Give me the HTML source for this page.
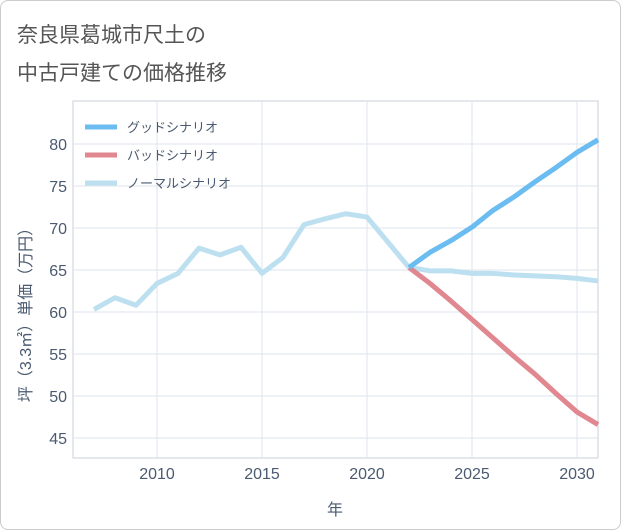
<!DOCTYPE html>
<html><head><meta charset="utf-8">
<style>
body{margin:0;background:#fff;}
#card{position:absolute;left:0;top:0;width:619px;height:528px;border:1px solid #ccc;border-radius:8px;background:#fff;overflow:hidden;}
.title{position:absolute;left:16px;font-family:"Liberation Sans","Noto Sans CJK JP",sans-serif;font-size:21px;color:#555;}
svg text{font-family:"Liberation Sans","Noto Sans CJK JP",sans-serif;}
</style></head><body>
<div id="card">
<div class="title" style="top:18px">奈良県葛城市尺土の</div>
<div class="title" style="top:56px">中古戸建ての価格推移</div>
<svg id="chart" width="621" height="530" style="position:absolute;left:0;top:0"></svg>
</div>
<script>
const years=[2007,2008,2009,2010,2011,2012,2013,2014,2015,2016,2017,2018,2019,2020,2021,2022];
const histValues=[60.3,61.7,60.8,63.4,64.6,67.6,66.8,67.7,64.6,66.5,70.4,71.1,71.7,71.3,68.3,65.3];
const futYears=[2022,2023,2024,2025,2026,2027,2028,2029,2030,2031];
const goodValues=[65.3,67.1,68.5,70.1,72.1,73.7,75.5,77.2,79.0,80.5];
const badValues=[65.3,63.4,61.3,59.1,56.9,54.7,52.6,50.3,48.1,46.6];
const normalValues=[65.3,64.9,64.9,64.6,64.6,64.4,64.3,64.2,64.0,63.7];
const xTicks=[2010,2015,2020,2025,2030];
const yTicks=[45,50,55,60,65,70,75,80];
const legendLabels=["グッドシナリオ","バッドシナリオ","ノーマルシナリオ"];
const colors=["#6bbcf0","#e0878f","#bde0f0"];
const L=72,R=597,T=100,B=457;
const x=v=>156+(v-2010)*21;
const y=v=>143+(80-v)*8.4;
const svg=document.getElementById('chart');
const NS="http://www.w3.org/2000/svg";
function mk(t,a){const e=document.createElementNS(NS,t);for(const k in a)e.setAttribute(k,a[k]);svg.appendChild(e);return e;}
const bg=mk('rect',{x:L,y:T,width:R-L,height:B-T,fill:'none',stroke:'#c8d0da'});


xTicks.forEach(t=>{const g=mk('line',{x1:x(t),x2:x(t),y1:T,y2:B,stroke:'#dde4ec'});


const l=mk('text',{x:x(t),y:478,'text-anchor':'middle','font-size':16,fill:'#4a5a70'});l.textContent=t;

});
yTicks.forEach(t=>{const g=mk('line',{x1:L,x2:R,y1:y(t),y2:y(t),stroke:'#dde4ec'});


const l=mk('text',{x:66,y:y(t)+6,'text-anchor':'end','font-size':16,fill:'#4a5a70'});l.textContent=t;

});
const xt=mk('text',{x:334,y:514,'text-anchor':'middle','font-size':16,fill:'#4a5a70'});xt.textContent='年';


const yt=mk('text',{x:0,y:0,'text-anchor':'middle','font-size':16,fill:'#4a5a70',transform:'translate(30,310) rotate(-90)'});yt.textContent='坪（3.3㎡）単価（万円）';


function line(xs,vs,c,name){const p=mk('polyline',{points:xs.map((v,i)=>x(v)+','+y(vs[i])).join(' '),fill:'none',stroke:c,'stroke-width':5,'stroke-linejoin':'round'});

}
line(years,histValues,colors[2],'history-line');
line(futYears,normalValues,colors[2],'normal-scenario-line');
line(futYears,badValues,colors[1],'bad-scenario-line');
line(futYears,goodValues,colors[0],'good-scenario-line');
legendLabels.forEach((s,i)=>{const yy=126+i*28;
const m=mk('line',{x1:84,x2:116,y1:yy,y2:yy,stroke:colors[i],'stroke-width':5});


const t=mk('text',{x:126,y:yy+5,'font-size':13,fill:'#4a5a70'});t.textContent=s;

});
</script>
</body></html>
